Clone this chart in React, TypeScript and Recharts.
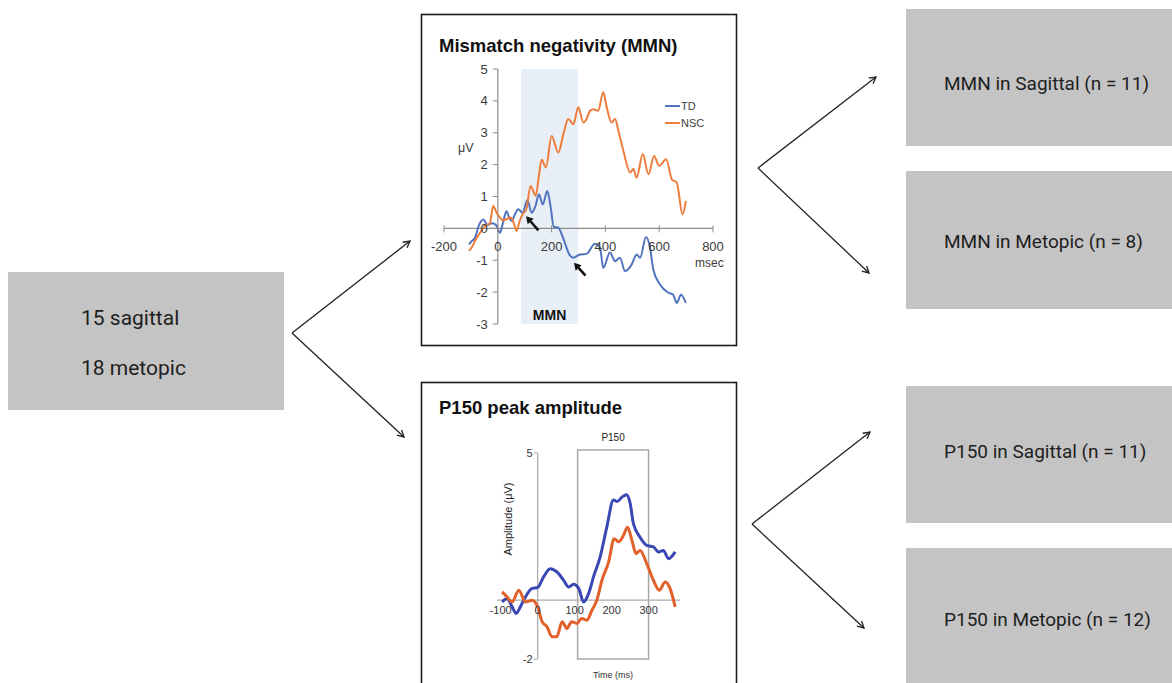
import React from "react";
import {
  LineChart,
  Line,
  XAxis,
  YAxis,
  ReferenceLine,
  ReferenceArea,
  Legend,
} from "recharts";

// ---- Mismatch negativity (MMN) panel ----
const mmnTdTime = [-107, -97, -85, -70, -54, -38, -23, -8, 8, 20, 32, 42, 52, 64, 76, 92, 110, 126, 140, 153, 167, 184, 196, 208, 225, 245, 268, 281, 305, 330, 361, 380, 392, 417, 436, 454, 473, 498, 516, 529, 551, 566, 578, 603, 634, 652, 665, 681, 699];
const mmnTdUv = [-0.5, -0.4, -0.3, 0.1, 0.28, 0.1, 0.16, 0.12, -0.14, 0.2, 0.54, 0.35, 0.23, 0.45, 0.6, 0.49, 0.89, 0.49, 0.7, 1.07, 0.75, 1.17, 0.7, 0.05, 0.02, -0.35, -0.85, -0.92, -0.82, -0.8, -0.48, -0.6, -1.24, -0.76, -1.03, -0.92, -1.34, -1.13, -0.82, -0.92, -0.27, -0.61, -1.29, -1.76, -2.02, -2.08, -2.34, -2.08, -2.34];
const mmnNscTime = [-107, -97, -82, -66, -45, -30, -17, -5, 8, 20, 32, 48, 60, 70, 80, 92, 106, 122, 141, 152, 163, 179, 200, 225, 245, 262, 281, 299, 318, 330, 343, 355, 373, 392, 405, 423, 436, 450, 467, 492, 504, 516, 539, 560, 581, 600, 626, 647, 665, 687, 699];
const mmnNscUv = [-0.7, -0.6, -0.35, -0.14, 0.1, 0.15, 0.7, 0.5, 0.34, 0.25, 0.29, 0.34, 0.15, -0.08, 0.2, 0.44, 0.6, 1.33, 1.02, 1.6, 2.15, 1.91, 2.9, 2.38, 3.0, 3.43, 3.27, 3.8, 3.32, 3.43, 3.69, 3.74, 3.69, 4.27, 3.8, 3.32, 3.43, 3.0, 2.43, 1.75, 1.86, 1.59, 2.33, 1.7, 2.27, 1.96, 2.17, 1.54, 1.44, 0.44, 0.86];
const mmnTicksX = [-200, 0, 200, 400, 600, 800];
const mmnTicksY = [-3, -2, -1, 0, 1, 2, 3, 4, 5];
const mmnWindow = [86, 299];
const mmnLegendOrder = ["TD", "NSC"];
// arrows: [tail ms, tail uV, head ms, head uV]
const mmnArrows = [
  [151, -0.06, 105, 0.38],
  [326, -1.48, 283, -1.08],
];

// ---- P150 panel ----
const p150BlueTime = [-96, -83, -69, -58, -47, -33, -15, 0, 16, 34, 52, 70, 84, 97, 111, 124, 138, 151, 169, 187, 205, 215, 228, 240, 250, 259, 277, 295, 313, 327, 340, 354, 372];
const p150BlueUv = [-0.06, 0.06, -0.23, -0.45, -0.23, 0.11, 0.4, 0.43, 0.79, 1.07, 0.96, 0.68, 0.45, 0.54, 0.4, -0.06, 0.23, 0.79, 1.47, 2.48, 3.4, 3.35, 3.5, 3.58, 3.3, 2.6, 2.14, 1.86, 1.81, 1.64, 1.69, 1.41, 1.64];
const p150OrangeTime = [-96, -83, -69, -51, -33, -15, 0, 12, 25, 39, 52, 66, 79, 92, 106, 119, 133, 147, 160, 174, 192, 207, 219, 232, 243, 255, 266, 277, 295, 313, 329, 345, 358, 372];
const p150OrangeUv = [0.28, 0.11, -0.06, 0.34, -0.06, 0, -0.23, -0.73, -0.9, -1.24, -1.24, -0.73, -0.96, -0.73, -0.79, -0.62, -0.68, -0.34, 0, 0.68, 1.3, 2.09, 1.98, 2.2, 2.48, 2.03, 1.58, 1.69, 1.24, 0.68, 0.34, 0.62, 0.4, -0.23];
const p150TicksX = [-100, 0, 100, 200, 300];
const p150TicksY = [-2, 5];
const p150Window = [108, 300];

// ---- flowchart text ----
const groups = ["15 sagittal", "18 metopic"];
const outcomes = [
  "MMN in Sagittal (n = 11)",
  "MMN in Metopic (n = 8)",
  "P150 in Sagittal (n = 11)",
  "P150 in Metopic (n = 12)",
];

const toPoints = (ts: number[], vs: number[]) => ts.map((t, i) => ({ t, v: vs[i] }));

const CHART_FONT = "'Liberation Sans', Arial, sans-serif";
const BOX_FILL = "#c4c4c4";

// top chart geometry (axes take part of the margin so the plot box is fixed)
const M_W = 316;
const M_H = 332;
const M_AXW = 20;
const M_AXH = 20;
const M_MARGIN = { top: 55, right: 25, bottom: 22 - M_AXH, left: 22 - M_AXW };
const M_DX: [number, number] = [-200, 800];
const M_DY: [number, number] = [-3, 5];
const M_PL = 22;
const M_PW = M_W - 22 - 25;
const M_PH = M_H - 55 - 22;
const M_ZX = M_PL + ((0 - M_DX[0]) / (M_DX[1] - M_DX[0])) * M_PW;
const M_ZY = 55 + (M_DY[1] / (M_DY[1] - M_DY[0])) * M_PH;

// bottom chart geometry
const P_W = 316;
const P_H = 290;
const P_AXW = 30;
const P_AXH = 10;
const P_MARGIN = { top: 71, right: 58, bottom: 13 - P_AXH, left: 75 - P_AXW };
const P_DX: [number, number] = [-110, 385];
const P_DY: [number, number] = [-2, 5];
const P_PL = 75;
const P_PW = P_W - 75 - 58;
const P_PH = P_H - 71 - 13;
const P_ZX = P_PL + ((0 - P_DX[0]) / (P_DX[1] - P_DX[0])) * P_PW;
const P_ZY = 71 + (P_DY[1] / (P_DY[1] - P_DY[0])) * P_PH;

const mmnXTick = (p: any) => (
  <g>
    <line x1={p.x} x2={p.x} y1={M_ZY - 3} y2={M_ZY + 4} stroke="#8c8c8c" />
    <text x={p.x} y={M_ZY + 23} textAnchor="middle" fontSize={13} fill="#3a3a3a" fontFamily={CHART_FONT}>
      {p.payload.value}
    </text>
  </g>
);

const mmnYTick = (p: any) => (
  <g>
    <line x1={M_ZX - 5} x2={M_ZX} y1={p.y} y2={p.y} stroke="#8c8c8c" />
    <text x={M_ZX - 10} y={p.y + 4.5} textAnchor="end" fontSize={13} fill="#3a3a3a" fontFamily={CHART_FONT}>
      {p.payload.value}
    </text>
  </g>
);

const p150XTick = (p: any) => (
  <text x={p.x} y={P_ZY + 14} textAnchor="middle" fontSize={11} fill="#333" fontFamily={CHART_FONT}>
    {p.payload.value}
  </text>
);

const p150YTick = (p: any) => (
  <g>
    <line x1={P_ZX - 4} x2={P_ZX} y1={p.y} y2={p.y} stroke="#aaa" />
    <text x={P_ZX - 5} y={p.y + 4} textAnchor="end" fontSize={11} fill="#333" fontFamily={CHART_FONT}>
      {p.payload.value}
    </text>
  </g>
);

const arrowShape = (p: any) => {
  const { x1, y1, x2, y2 } = p;
  const ang = Math.atan2(y2 - y1, x2 - x1);
  const len = 7;
  const w = 4;
  const bx = x2 - len * Math.cos(ang);
  const by = y2 - len * Math.sin(ang);
  const nx = -Math.sin(ang) * w;
  const ny = Math.cos(ang) * w;
  return (
    <g>
      <line x1={x1} y1={y1} x2={bx} y2={by} stroke="#111" strokeWidth={2.6} />
      <polygon points={`${x2},${y2} ${bx + nx},${by + ny} ${bx - nx},${by - ny}`} fill="#111" />
    </g>
  );
};

const mmnLegend = (props: any) => {
  const items = [...(props.payload || [])].sort(
    (a: any, b: any) => mmnLegendOrder.indexOf(a.value) - mmnLegendOrder.indexOf(b.value)
  );
  return (
    <div style={{ fontFamily: CHART_FONT, fontSize: 11, color: "#404040" }}>
      {items.map((e: any) => (
        <div key={e.value} style={{ display: "flex", alignItems: "center", height: 17 }}>
          <span style={{ display: "inline-block", width: 15, height: 2, background: e.color, marginRight: 1 }} />
          {e.value}
        </div>
      ))}
    </div>
  );
};

function MmnChart() {
  return (
    <LineChart width={M_W} height={M_H} margin={M_MARGIN}>
      <ReferenceArea
        x1={mmnWindow[0]}
        x2={mmnWindow[1]}
        y1={M_DY[0]}
        y2={M_DY[1]}
        fill="#e9eff6"
        fillOpacity={1}
        stroke="none"
        label={{ value: "MMN", position: "insideBottom", offset: 4, fill: "#111", fontSize: 14, fontWeight: 700, fontFamily: CHART_FONT }}
      />
      <XAxis
        type="number"
        dataKey="t"
        domain={M_DX}
        ticks={mmnTicksX}
        interval={0}
        height={M_AXH}
        axisLine={false}
        tickLine={false}
        tick={mmnXTick}
      />
      <YAxis
        type="number"
        domain={M_DY}
        ticks={mmnTicksY}
        interval={0}
        width={M_AXW}
        axisLine={false}
        tickLine={false}
        tick={mmnYTick}
      />
      <ReferenceLine y={0} stroke="#8c8c8c" strokeWidth={1.2} />
      <ReferenceLine x={0} stroke="#8c8c8c" strokeWidth={1.2} />
      <Line
        data={toPoints(mmnTdTime, mmnTdUv)}
        dataKey="v"
        name="TD"
        type="monotone"
        stroke="#5273be"
        strokeWidth={2}
        dot={false}
        isAnimationActive={false}
      />
      <Line
        data={toPoints(mmnNscTime, mmnNscUv)}
        dataKey="v"
        name="NSC"
        type="monotone"
        stroke="#ee7d3b"
        strokeWidth={2}
        dot={false}
        isAnimationActive={false}
      />
      {mmnArrows.map((a, i) => (
        <ReferenceLine
          key={i}
          segment={[
            { x: a[0], y: a[1] },
            { x: a[2], y: a[3] },
          ]}
          stroke="#111"
          shape={arrowShape}
        />
      ))}
      <Legend
        layout="vertical"
        align="center"
        verticalAlign="middle"
        wrapperStyle={{ left: 243, top: 83, width: 60 }}
        content={mmnLegend}
      />
    </LineChart>
  );
}

function P150Chart() {
  return (
    <LineChart width={P_W} height={P_H} margin={P_MARGIN}>
      <XAxis
        type="number"
        dataKey="t"
        domain={P_DX}
        ticks={p150TicksX}
        interval={0}
        height={P_AXH}
        axisLine={false}
        tickLine={false}
        tick={p150XTick}
      />
      <YAxis
        type="number"
        domain={P_DY}
        ticks={p150TicksY}
        interval={0}
        width={P_AXW}
        axisLine={false}
        tickLine={false}
        tick={p150YTick}
      />
      <ReferenceLine y={0} stroke="#aaa" strokeWidth={1.2} />
      <ReferenceLine x={0} stroke="#aaa" strokeWidth={1.2} />
      <ReferenceArea
        x1={p150Window[0]}
        x2={p150Window[1]}
        y1={P_DY[0]}
        y2={5.1}
        ifOverflow="visible"
        fill="none"
        stroke="#a8a8a8"
        strokeWidth={1.5}
        label={{ value: "P150", position: "top", offset: 9, fill: "#222", fontSize: 10, fontFamily: CHART_FONT }}
      />
      <Line
        data={toPoints(p150BlueTime, p150BlueUv)}
        dataKey="v"
        name="Blue"
        type="monotone"
        stroke="#3a48b4"
        strokeWidth={3}
        dot={false}
        isAnimationActive={false}
      />
      <Line
        data={toPoints(p150OrangeTime, p150OrangeUv)}
        dataKey="v"
        name="Orange"
        type="monotone"
        stroke="#e2612a"
        strokeWidth={3}
        dot={false}
        isAnimationActive={false}
      />
    </LineChart>
  );
}

export default function App() {
  const abs = (left: number, top: number): React.CSSProperties => ({ position: "absolute", left, top });
  return (
    <div
      style={{
        position: "absolute",
        left: 0,
        top: 0,
        width: 1172,
        height: 683,
        overflow: "hidden",
        background: "#fff",
      }}
    >
      <svg width={1172} height={683} style={abs(0, 0)}>
        <defs>
          <marker id="head" markerUnits="userSpaceOnUse" markerWidth={10} markerHeight={10} refX={8} refY={5} orient="auto">
            <path d="M1.5,1.5 L8,5 L1.5,8.5" fill="none" stroke="#222" strokeWidth={1.3} />
          </marker>
        </defs>

        {/* cohort box */}
        <rect x={8} y={272} width={276} height={138} fill={BOX_FILL} />
        <text x={81} y={325} fontSize={21} fontFamily="Roboto" fill="#1e1e1e">{groups[0]}</text>
        <text x={81} y={375} fontSize={21} fontFamily="Roboto" fill="#1e1e1e">{groups[1]}</text>

        {/* outcome boxes */}
        <rect x={906} y={9} width={266} height={137} fill={BOX_FILL} />
        <rect x={906} y={171} width={266} height={138} fill={BOX_FILL} />
        <rect x={906} y={386} width={266} height={137} fill={BOX_FILL} />
        <rect x={906} y={548} width={266} height={140} fill={BOX_FILL} />
        <text x={944} y={90} fontSize={19} fontFamily="Roboto" fill="#1e1e1e">{outcomes[0]}</text>
        <text x={944} y={248} fontSize={19} fontFamily="Roboto" fill="#1e1e1e">{outcomes[1]}</text>
        <text x={944} y={458} fontSize={19} fontFamily="Roboto" fill="#1e1e1e">{outcomes[2]}</text>
        <text x={944} y={626} fontSize={19} fontFamily="Roboto" fill="#1e1e1e">{outcomes[3]}</text>

        {/* arrows */}
        <g stroke="#222" strokeWidth={1.3} fill="none">
          <line x1={292} y1={333} x2={410} y2={241} markerEnd="url(#head)" />
          <line x1={292} y1={333} x2={404} y2={437} markerEnd="url(#head)" />
          <line x1={758} y1={168} x2={876} y2={77} markerEnd="url(#head)" />
          <line x1={758} y1={168} x2={869} y2={273} markerEnd="url(#head)" />
          <line x1={752} y1={524} x2={870} y2={432} markerEnd="url(#head)" />
          <line x1={752} y1={524} x2={864} y2={628} markerEnd="url(#head)" />
        </g>

        {/* chart frames */}
        <rect x={421.5} y={14.5} width={315} height={331} fill="none" stroke="#1c1c1c" strokeWidth={1.6} />
        <rect x={421.5} y={382.5} width={315} height={330} fill="none" stroke="#1c1c1c" strokeWidth={1.6} />
        <text x={439} y={52} fontSize={18.5} fontWeight={700} fontFamily={CHART_FONT} fill="#111">
          Mismatch negativity (MMN)
        </text>
        <text x={439} y={414} fontSize={18.5} fontWeight={700} fontFamily={CHART_FONT} fill="#111">
          P150 peak amplitude
        </text>

        {/* axis titles */}
        <text x={458} y={152} fontSize={12.5} fontFamily={CHART_FONT} fill="#3a3a3a">μV</text>
        <text x={695} y={267} fontSize={12} fontFamily={CHART_FONT} fill="#3a3a3a">msec</text>
        <text
          x={512}
          y={519}
          fontSize={11}
          fontFamily={CHART_FONT}
          fill="#222"
          textAnchor="middle"
          transform="rotate(-90 512 519)"
        >
          Amplitude (μV)
        </text>
        <text x={613} y={678} fontSize={9} fontFamily={CHART_FONT} fill="#333" textAnchor="middle">
          Time (ms)
        </text>
      </svg>

      <div style={abs(422, 14)}>
        <MmnChart />
      </div>
      <div style={abs(422, 382)}>
        <P150Chart />
      </div>
    </div>
  );
}
